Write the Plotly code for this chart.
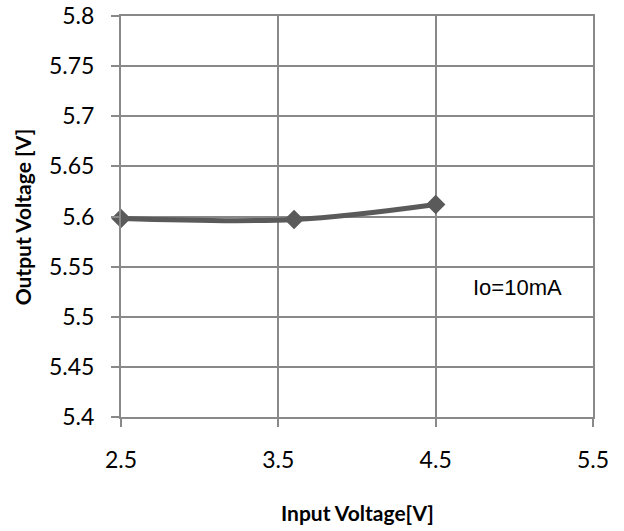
import plotly.graph_objects as go

input_v = [2.5, 3.6, 4.5]
output_v = [5.598, 5.597, 5.612]
x_ticks = [2.5, 3.5, 4.5, 5.5]
y_ticks = [5.4, 5.45, 5.5, 5.55, 5.6, 5.65, 5.7, 5.75, 5.8]

fig = go.Figure()
fig.add_trace(go.Scatter(
    x=input_v, y=output_v, mode="lines+markers",
    line=dict(color="#5a5a5a", width=5, shape="spline"),
    marker=dict(symbol="diamond", size=15, color="#5a5a5a"),
    showlegend=False, cliponaxis=False,
))

grid_col = "#898989"
tick_font = dict(family="Lato, Carlito, sans-serif", size=23, color="#000")
fig.update_xaxes(
    range=[2.5, 5.5], tickvals=x_ticks, ticktext=[str(v) for v in x_ticks],
    showgrid=True, gridcolor=grid_col, gridwidth=1.5,
    showline=True, linecolor=grid_col, linewidth=2, mirror=True,
    ticks="outside", ticklen=8, tickcolor=grid_col, tickwidth=1.5,
    ticklabelstandoff=13, ticklabeloverflow="allow",
    zeroline=False, automargin=False, tickfont=tick_font,
)
fig.update_yaxes(
    range=[5.4, 5.8], tickvals=y_ticks, ticktext=[f"{v:g}" for v in y_ticks],
    showgrid=True, gridcolor=grid_col, gridwidth=1.5,
    showline=True, linecolor=grid_col, linewidth=2, mirror=True,
    ticks="outside", ticklen=8, tickcolor=grid_col, tickwidth=1.5,
    ticklabelstandoff=12, ticklabeloverflow="allow",
    zeroline=False, automargin=False, tickfont=tick_font,
)
title_font = dict(family="Lato, Carlito, sans-serif", size=21, color="#000")
fig.add_annotation(
    x=0.5, y=-0.237, xref="paper", yref="paper", text="<b>Input Voltage[V]</b>",
    showarrow=False, font=title_font, xanchor="center", yanchor="middle",
)
fig.add_annotation(
    x=-0.208, y=0.5, xref="paper", yref="paper", text="<b>Output Voltage [V]</b>",
    showarrow=False, font=title_font, textangle=-90, xanchor="center", yanchor="middle",
)
fig.add_annotation(
    x=5.02, y=5.529, xref="x", yref="y", text="Io=10mA", showarrow=False,
    font=dict(family="Liberation Sans, Arial, sans-serif", size=22, color="#000"),
)
fig.update_layout(
    width=624, height=531,
    margin=dict(l=121, r=31, t=16, b=114),
    plot_bgcolor="white", paper_bgcolor="white",
)
fig.write_html("out.html", config={"displayModeBar": False},
               post_script="document.body.style.margin='0';")
